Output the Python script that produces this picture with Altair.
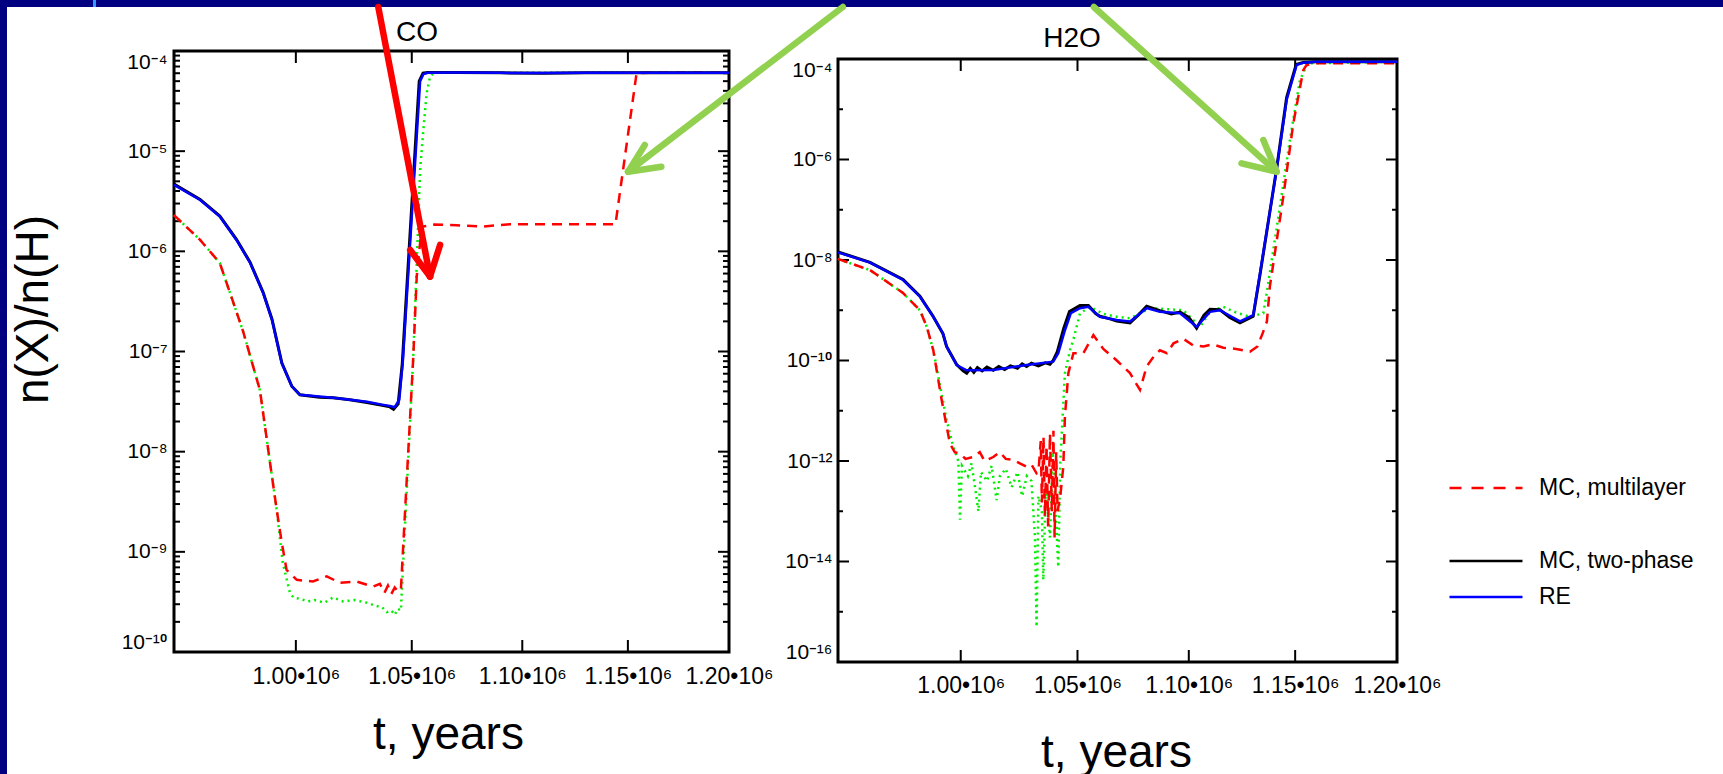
import altair as alt
import pandas as pd

FONT = "Liberation Sans"
TICKFONT = "Liberation Sans, Roboto, Noto Sans"
NAVY = "#000080"
RED = "#ff0000"
GREEN = "#00ee00"
BLUE = "#0000ff"
ARROW_GREEN = "#92d050"

# ---------------- data: t in 10^6 years, n(X)/n(H) ----------------
# CO panel
co_re = [(0.9500, 4.6e-6), (0.9605, 3.26e-6), (0.9685, 2.22e-6), (0.9753, 1.30e-6),
         (0.9809, 7.7e-7), (0.9863, 3.85e-7), (0.9900, 2.07e-7), (0.9941, 7.6e-8),
         (0.9983, 4.5e-8), (1.0017, 3.7e-8), (1.0100, 3.55e-8), (1.0158, 3.45e-8),
         (1.0230, 3.3e-8), (1.0304, 3.15e-8), (1.0370, 2.95e-8), (1.0404, 2.86e-8),
         (1.0425, 2.78e-8), (1.0445, 3.3e-8), (1.0461, 8.2e-8), (1.0537, 5.0e-5),
         (1.0552, 5.9e-5), (1.0570, 6.07e-5), (1.0700, 6.1e-5), (1.0900, 6.05e-5),
         (1.1100, 6.02e-5), (1.1300, 6.07e-5), (1.1500, 6.07e-5), (1.1700, 6.07e-5),
         (1.2000, 6.07e-5)]
co_mc = [(0.9500, 4.7e-6), (0.9605, 3.3e-6), (0.9685, 2.25e-6), (0.9753, 1.32e-6),
         (0.9809, 7.8e-7), (0.9863, 3.9e-7), (0.9900, 2.1e-7), (0.9941, 7.7e-8),
         (0.9983, 4.5e-8), (1.0017, 3.7e-8), (1.0100, 3.5e-8), (1.0158, 3.45e-8),
         (1.0230, 3.3e-8), (1.0304, 3.1e-8), (1.0370, 2.9e-8), (1.0404, 2.8e-8),
         (1.0420, 2.65e-8), (1.0440, 3.0e-8), (1.0458, 7.5e-8), (1.0533, 5.0e-5),
         (1.0550, 6.0e-5), (1.0570, 6.1e-5), (1.0700, 6.1e-5), (1.0900, 6.05e-5),
         (1.1100, 6.0e-5), (1.1300, 6.07e-5), (1.1500, 6.07e-5), (1.1700, 6.07e-5),
         (1.2000, 6.07e-5)]
co_ml = [(0.9500, 2.3e-6), (0.9605, 1.3e-6), (0.9685, 7.65e-7), (0.9780, 1.6e-7),
         (0.9850, 4.1e-8), (0.9892, 7.7e-9), (0.9920, 2.6e-9), (0.9941, 1.23e-9),
         (0.9961, 6.6e-10), (1.0004, 5.25e-10), (1.0072, 5.06e-10), (1.0131, 5.7e-10),
         (1.0187, 4.9e-10), (1.0259, 5.06e-10), (1.0330, 4.5e-10), (1.0360, 4.8e-10),
         (1.0380, 3.9e-10), (1.0395, 4.6e-10), (1.0410, 3.8e-10), (1.0425, 4.4e-10),
         (1.0440, 4.0e-10), (1.0452, 4.2e-10), (1.0506, 8.2e-8), (1.0522, 5.6e-7),
         (1.0544, 1.76e-6), (1.0600, 1.85e-6), (1.0700, 1.82e-6), (1.0820, 1.77e-6),
         (1.0943, 1.86e-6), (1.1200, 1.86e-6), (1.1440, 1.86e-6), (1.1542, 5.98e-5),
         (1.1600, 6.07e-5), (1.2000, 6.07e-5)]
co_gr = [(0.9500, 2.3e-6), (0.9605, 1.3e-6), (0.9685, 7.65e-7), (0.9780, 1.6e-7),
         (0.9850, 4.1e-8), (0.9892, 7.7e-9), (0.9920, 2.6e-9), (0.9945, 7.8e-10),
         (0.9975, 3.9e-10), (0.9990, 3.5e-10), (1.0017, 3.4e-10), (1.0050, 3.2e-10),
         (1.0080, 3.3e-10), (1.0120, 3.1e-10), (1.0158, 3.5e-10), (1.0200, 3.2e-10),
         (1.0250, 3.3e-10), (1.0304, 3.1e-10), (1.0340, 2.9e-10), (1.0370, 2.8e-10),
         (1.0390, 2.5e-10), (1.0410, 2.6e-10), (1.0425, 2.35e-10), (1.0438, 2.7e-10),
         (1.0452, 2.6e-10), (1.0506, 8.2e-8), (1.0522, 7.6e-7), (1.0537, 6.5e-6),
         (1.0551, 1.6e-5), (1.0566, 3.8e-5), (1.0581, 5.5e-5), (1.0596, 6.07e-5),
         (1.0700, 6.07e-5), (1.2000, 6.07e-5)]

# H2O panel
h2o_re = [(0.9500, 1.42e-8), (0.9628, 8.9e-9), (0.9762, 4.0e-9), (0.9831, 1.86e-9),
          (0.9885, 7.5e-10), (0.9926, 3.5e-10), (0.9941, 1.9e-10), (0.9983, 8.1e-11),
          (1.0025, 6.4e-11), (1.0137, 6.5e-11), (1.0279, 8.1e-11), (1.0394, 9.5e-11),
          (1.0416, 1.4e-10), (1.0445, 4.0e-10), (1.0471, 8.8e-10), (1.0511, 1.1e-9),
          (1.0548, 1.17e-9), (1.0599, 7.4e-10), (1.0674, 6.4e-10), (1.0733, 6.0e-10),
          (1.0808, 1.1e-9), (1.0868, 9.3e-10), (1.0960, 8.7e-10), (1.1036, 4.7e-10),
          (1.1098, 9.3e-10), (1.1144, 1.0e-9), (1.1238, 6.0e-10), (1.1300, 8.0e-10),
          (1.1332, 5.4e-9), (1.1411, 6.2e-7), (1.1459, 1.53e-5), (1.1507, 7.6e-5),
          (1.1539, 8.45e-5), (1.1600, 8.8e-5), (1.2000, 8.85e-5)]
h2o_mc = [(0.9500, 1.45e-8), (0.9628, 9.0e-9), (0.9762, 4.1e-9), (0.9831, 1.9e-9),
          (0.9885, 7.6e-10), (0.9926, 3.4e-10), (0.9941, 1.9e-10), (0.9983, 8.3e-11),
          (1.0010, 6.2e-11), (1.0025, 5.6e-11), (1.0040, 7.0e-11), (1.0055, 5.8e-11),
          (1.0070, 7.2e-11), (1.0090, 6.2e-11), (1.0110, 7.4e-11), (1.0137, 6.4e-11),
          (1.0160, 7.6e-11), (1.0185, 6.6e-11), (1.0210, 7.8e-11), (1.0240, 7.0e-11),
          (1.0260, 8.6e-11), (1.0279, 7.6e-11), (1.0300, 8.8e-11), (1.0330, 7.8e-11),
          (1.0360, 9.0e-11), (1.0380, 8.4e-11), (1.0394, 1.0e-10), (1.0412, 1.5e-10),
          (1.0440, 4.4e-10), (1.0465, 9.4e-10), (1.0511, 1.25e-9), (1.0548, 1.25e-9),
          (1.0580, 8.6e-10), (1.0599, 7.6e-10), (1.0640, 6.8e-10), (1.0674, 6.1e-10),
          (1.0733, 5.6e-10), (1.0770, 8.0e-10), (1.0808, 1.2e-9), (1.0868, 9.8e-10),
          (1.0920, 8.4e-10), (1.0960, 9.2e-10), (1.1000, 7.2e-10), (1.1036, 4.4e-10),
          (1.1070, 8.0e-10), (1.1098, 1.05e-9), (1.1144, 1.02e-9), (1.1190, 7.2e-10),
          (1.1238, 5.6e-10), (1.1300, 7.6e-10), (1.1332, 5.0e-9), (1.1411, 6.5e-7),
          (1.1459, 1.7e-5), (1.1505, 7.8e-5), (1.1539, 8.5e-5), (1.1600, 8.85e-5),
          (1.2000, 8.85e-5)]
h2o_ml = [(0.9500, 1.05e-8), (0.9628, 6.3e-9), (0.9762, 2.2e-9), (0.9831, 1.0e-9),
          (0.9859, 4.7e-10), (0.9886, 1.6e-10), (0.9921, 1.6e-11), (0.9955, 2.2e-12),
          (0.9975, 1.5e-12), (0.9997, 1.4e-12), (1.0020, 1.1e-12), (1.0053, 1.2e-12),
          (1.0080, 1.5e-12), (1.0100, 1.0e-12), (1.0137, 1.2e-12), (1.0165, 1.5e-12),
          (1.0190, 1.1e-12), (1.0222, 1.05e-12), (1.0250, 9e-13), (1.0279, 7.7e-13),
          (1.0300, 8.5e-13), (1.0322, 5.7e-13), (1.0330, 6e-13), (1.0340, 2.5e-12),
          (1.0345, 1.5e-13), (1.0352, 3e-12), (1.0358, 8e-14), (1.0365, 2e-12),
          (1.0372, 5e-14), (1.0380, 3.5e-12), (1.0388, 1e-13), (1.0395, 4e-12),
          (1.0400, 3e-14), (1.0407, 1.5e-12), (1.0413, 1e-13), (1.0425, 2e-13),
          (1.0438, 7.8e-13), (1.0445, 7.6e-12), (1.0460, 5.6e-11), (1.0482, 1.4e-10),
          (1.0526, 1.4e-10), (1.0570, 3.2e-10), (1.0614, 1.7e-10), (1.0674, 1.0e-10),
          (1.0733, 5.6e-11), (1.0760, 3.5e-11), (1.0778, 2.6e-11), (1.0808, 7.6e-11),
          (1.0840, 1.2e-10), (1.0868, 1.6e-10), (1.0900, 1.4e-10), (1.0930, 2.2e-10),
          (1.0975, 2.7e-10), (1.1020, 2.0e-10), (1.1067, 1.9e-10), (1.1110, 2.1e-10),
          (1.1160, 1.8e-10), (1.1220, 1.7e-10), (1.1285, 1.5e-10), (1.1320, 1.9e-10),
          (1.1345, 3.5e-10), (1.1365, 6.0e-10), (1.1379, 2.95e-9), (1.1443, 1.8e-7),
          (1.1491, 5.2e-6), (1.1539, 6.0e-5), (1.1555, 7.6e-5), (1.1600, 8.2e-5),
          (1.2000, 8.2e-5)]
h2o_gr = [(0.9500, 1.05e-8), (0.9628, 6.3e-9), (0.9762, 2.2e-9), (0.9831, 1.0e-9),
          (0.9859, 4.7e-10), (0.9886, 1.6e-10), (0.9915, 3e-11), (0.9941, 6.6e-12),
          (0.9969, 1.9e-12), (0.9990, 1.0e-12), (0.9997, 6.8e-14), (1.0005, 8e-13),
          (1.0030, 5e-13), (1.0045, 9e-13), (1.0060, 3e-13), (1.0074, 1.0e-13),
          (1.0085, 6e-13), (1.0110, 4e-13), (1.0130, 8e-13), (1.0151, 1.66e-13),
          (1.0165, 5e-13), (1.0190, 7e-13), (1.0215, 3e-13), (1.0240, 6e-13),
          (1.0260, 2e-13), (1.0280, 5e-13), (1.0300, 4e-13), (1.0315, 3e-14),
          (1.0322, 5e-16), (1.0330, 2e-13), (1.0345, 1e-13), (1.0351, 4.3e-15),
          (1.0362, 3e-13), (1.0380, 3e-14), (1.0392, 1.5e-12), (1.0405, 1e-13),
          (1.0416, 7.7e-15), (1.0425, 1e-12), (1.0445, 5.6e-11), (1.0467, 1.6e-10),
          (1.0482, 2.6e-10), (1.0511, 8.7e-10), (1.0555, 1.17e-9), (1.0614, 8.5e-10),
          (1.0674, 7.4e-10), (1.0733, 6.9e-10), (1.0823, 1.1e-9), (1.0900, 1.05e-9),
          (1.0975, 1.0e-9), (1.1052, 4.7e-10), (1.1100, 9.5e-10), (1.1160, 1.17e-9),
          (1.1220, 9e-10), (1.1285, 7.4e-10), (1.1348, 8.7e-10), (1.1364, 2.2e-9),
          (1.1427, 1.15e-7), (1.1475, 2.5e-6), (1.1523, 3.8e-5), (1.1560, 8.2e-5),
          (1.2000, 8.85e-5)]

# annotation arrows: start, tip, head arm 1, head arm 2 (data coordinates)
arrow_red_co = [(1.0353, 2.75e-4), (1.0581, 5.59e-7), (1.0493, 1.03e-6), (1.0626, 1.16e-6)]
arrow_green_co = [(1.2589, 2.75e-4), (1.1501, 6.24e-6), (1.1582, 1.153e-5), (1.1663, 7.0e-6)]
arrow_green_h2o = [(1.0572, 1.083e-3), (1.1411, 5.72e-7), (1.1348, 2.443e-6), (1.1245, 8.4e-7)]

# axis ticks / labels
t_domain = [0.95, 1.20]
x_tick_vals = [1.00, 1.05, 1.10, 1.15]
x_label_vals = [1.00, 1.05, 1.10, 1.15, 1.20]
co_decades = [1e-4, 1e-5, 1e-6, 1e-7, 1e-8, 1e-9, 1e-10]
co_minor = [m * d for d in co_decades[1:] for m in range(2, 10)]
h2o_even = [1e-4, 1e-6, 1e-8, 1e-10, 1e-12, 1e-14, 1e-16]
h2o_odd = [1e-5, 1e-7, 1e-9, 1e-11, 1e-13, 1e-15]

# ---------------- layout constants (px) ----------------
CO_W, CO_H = 555, 601
H_W, H_H, H_TOP = 559, 611, 8
GAP = 109

co_xs = alt.Scale(type="log", domain=t_domain, nice=False)
co_ys = alt.Scale(type="log", domain=[1e-10, 1e-4], nice=False)
h_xs = alt.Scale(type="log", domain=t_domain, nice=False)
h_ys = alt.Scale(type="log", domain=[1e-16, 1e-4], nice=False, range=[H_H, H_TOP])

E = "round(-log(datum.value)/LN10)"
SUP = ("'10\u207b' + (" + E + " >= 10 ? '\u00b9' : '') + substring('\u2070\u00b9\u00b2\u00b3\u2074\u2075\u2076\u2077\u2078\u2079', "
       + E + " % 10, " + E + " % 10 + 1)")
XLAB = "format(datum.value, '.2f') + '\u202210\u2076'"


def xy(xs, ys):
    return dict(x=alt.X("t:Q", scale=xs), y=alt.Y("v:Q", scale=ys))


def df_of(points, series=None):
    df = pd.DataFrame(points, columns=["t", "v"])
    if series is not None:
        df["s"] = series
    return df


def x_axis(pad, tx, ty):
    return alt.Axis(values=x_label_vals, labelExpr=XLAB, ticks=False, domain=False, grid=False,
                    labelFlush=False, labelOverlap=False, labelFont=TICKFONT, labelFontSize=23,
                    labelColor="black", labelBaseline="alphabetic", labelPadding=pad,
                    title="t, years", titleFont=FONT, titleFontSize=46, titleFontWeight="normal",
                    titleColor="black", titleX=tx, titleY=ty, titleAlign="center",
                    titleBaseline="alphabetic")


def y_axis(vals, pad, title=None):
    kw = dict(values=vals, labelExpr=SUP, ticks=False, domain=False, grid=False, labelFlush=True,
              labelOverlap=False, labelFont=TICKFONT, labelFontSize=21, labelColor="black",
              labelPadding=pad)
    if title:
        kw.update(title=title, titleFont=FONT, titleFontSize=46, titleFontWeight="normal",
                  titleColor="black", titleX=-127, titleY=258, titleAngle=270,
                  titleAlign="center", titleBaseline="alphabetic")
    else:
        kw.update(title=None)
    return alt.Axis(**kw)


def frame(xs, ys, ylo, yhi, xax, yax):
    df = pd.DataFrame({"t": [t_domain[0]], "t1": [t_domain[1]], "v": [ylo], "v1": [yhi]})
    return alt.Chart(df).mark_rect(filled=False, stroke="black", strokeWidth=3).encode(
        x=alt.X("t:Q", scale=xs, axis=xax), x2="t1:Q",
        y=alt.Y("v:Q", scale=ys, axis=yax), y2="v1:Q")


def yticks(vals, ys, x0, x1):
    return alt.Chart(pd.DataFrame({"v": vals})).mark_rule(color="black", strokeWidth=2).encode(
        y=alt.Y("v:Q", scale=ys), x=alt.value(x0), x2=alt.value(x1))


def xticks(vals, xs, y0, y1):
    return alt.Chart(pd.DataFrame({"t": vals})).mark_rule(color="black", strokeWidth=2).encode(
        x=alt.X("t:Q", scale=xs), y=alt.value(y0), y2=alt.value(y1))


def arrow(pts, xs, ys, color):
    start, tip, a1, a2 = pts
    rows = [("shaft", 0, *start), ("shaft", 1, *tip), ("h1", 0, *a1), ("h1", 1, *tip),
            ("h2", 0, *a2), ("h2", 1, *tip)]
    df = pd.DataFrame(rows, columns=["seg", "o", "t", "v"])
    return alt.Chart(df).mark_line(color=color, strokeWidth=6.5, strokeCap="round",
                                   strokeJoin="round", clip=False).encode(
        **xy(xs, ys), detail="seg:N", order="o:Q")


def bar(x0, x1, y0, y1, color):
    return alt.Chart(pd.DataFrame({"k": [0]})).mark_rect(color=color).encode(
        x=alt.value(x0), x2=alt.value(x1), y=alt.value(y0), y2=alt.value(y1))


def label(text, x, y, size):
    return alt.Chart(pd.DataFrame({"label": [text]})).mark_text(
        font=FONT, fontSize=size, color="black", align="center", baseline="alphabetic").encode(
        text="label:N", x=alt.value(x), y=alt.value(y))


# ---------------- CO panel ----------------
co_layers = [
    bar(-174, -167, -51, 723, NAVY),
    bar(-174, 1549, -51, -44, NAVY),
    bar(-81, -78, -51, -44, "#3399ff"),
    frame(co_xs, co_ys, 1e-10, 1e-4, x_axis(31, 274, 96), y_axis(co_decades, 7, "n(X)/n(H)")),
    yticks(co_decades, co_ys, 0, 11),
    yticks(co_minor, co_ys, 0, 6),
    yticks(co_decades, co_ys, CO_W, CO_W - 11),
    yticks(co_minor, co_ys, CO_W, CO_W - 6),
    xticks(x_tick_vals, co_xs, CO_H, CO_H - 12),
    xticks(x_tick_vals, co_xs, 0, 12),
    alt.Chart(df_of(co_gr)).mark_line(color=GREEN, strokeWidth=2.5, strokeDash=[2, 4]).encode(**xy(co_xs, co_ys)),
    alt.Chart(df_of(co_ml)).mark_line(color=RED, strokeWidth=2.5, strokeDash=[10, 7]).encode(**xy(co_xs, co_ys)),
    alt.Chart(df_of(co_mc)).mark_line(color="black", strokeWidth=3).encode(**xy(co_xs, co_ys)),
    alt.Chart(df_of(co_re)).mark_line(color=BLUE, strokeWidth=2.5).encode(**xy(co_xs, co_ys)),
    label("CO", 243, -10, 28),
    arrow(arrow_red_co, co_xs, co_ys, RED),
    arrow(arrow_green_co, co_xs, co_ys, ARROW_GREEN),
]
co = alt.layer(*co_layers).properties(width=CO_W, height=CO_H)

# ---------------- H2O panel ----------------
red_legend = alt.Legend(orient="none", legendX=610, legendY=419, title=None, symbolType="stroke",
                        symbolSize=5329, symbolStrokeWidth=2.5, symbolDash=[12, 10],
                        labelFont=FONT, labelFontSize=23, labelColor="black", labelOffset=15,
                        clipHeight=36, rowPadding=0, padding=0)
col_legend = alt.Legend(orient="none", legendX=610, legendY=492, title=None, symbolType="stroke",
                        symbolSize=5329, symbolStrokeWidth=2.5,
                        labelFont=FONT, labelFontSize=23, labelColor="black", labelOffset=15,
                        clipHeight=36, rowPadding=0, padding=0)
cscale = alt.Scale(domain=["MC, two-phase", "RE"], range=["black", BLUE])

h_layers = [
    frame(h_xs, h_ys, 1e-16, 1e-4, x_axis(30, 278, 104), y_axis(h2o_even, 6)),
    yticks(h2o_even, h_ys, 0, 11),
    yticks(h2o_odd, h_ys, 0, 5),
    yticks(h2o_even, h_ys, H_W, H_W - 11),
    yticks(h2o_odd, h_ys, H_W, H_W - 5),
    xticks(x_tick_vals, h_xs, H_H, H_H - 12),
    xticks(x_tick_vals, h_xs, H_TOP, H_TOP + 12),
    alt.Chart(df_of(h2o_gr)).mark_line(color=GREEN, strokeWidth=2.5, strokeDash=[2, 4]).encode(**xy(h_xs, h_ys)),
    alt.Chart(df_of(h2o_ml, "MC, multilayer")).mark_line(strokeWidth=2.5, strokeDash=[10, 7]).encode(
        **xy(h_xs, h_ys),
        stroke=alt.Stroke("s:N", scale=alt.Scale(domain=["MC, multilayer"], range=[RED]), legend=red_legend)),
    alt.Chart(df_of(h2o_mc, "MC, two-phase")).mark_line(strokeWidth=3).encode(
        **xy(h_xs, h_ys), color=alt.Color("s:N", scale=cscale, legend=col_legend)),
    alt.Chart(df_of(h2o_re, "RE")).mark_line(strokeWidth=2.5).encode(
        **xy(h_xs, h_ys), color=alt.Color("s:N", scale=cscale, legend=col_legend)),
    label("H2O", 234, -4, 28),
    arrow(arrow_green_h2o, h_xs, h_ys, ARROW_GREEN),
]
h2o = alt.layer(*h_layers).properties(width=H_W, height=H_H)

chart = (
    alt.hconcat(co, h2o, spacing=GAP, bounds="flush")
    .resolve_scale(x="independent", y="independent", color="independent", stroke="independent")
    .resolve_legend(color="independent", stroke="independent")
    .properties(padding=0, background="white")
    .configure_view(strokeWidth=0)
)

chart.save("out.html", embed_options={"renderer": "svg", "actions": False})
